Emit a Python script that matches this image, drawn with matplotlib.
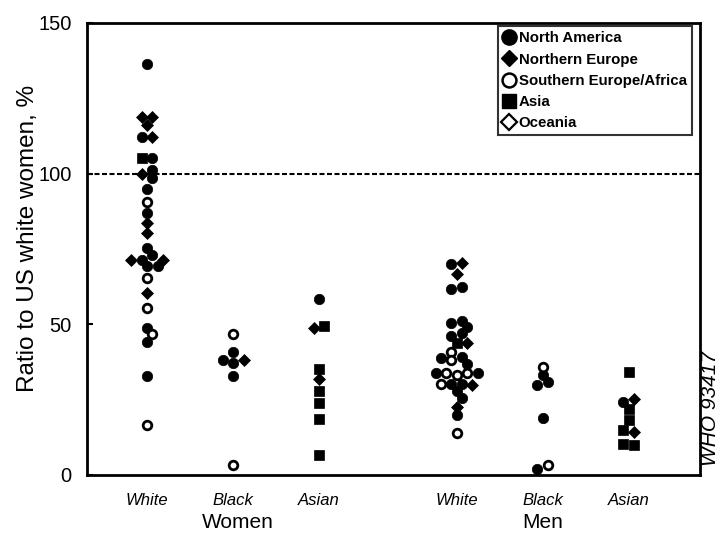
import matplotlib
matplotlib.use("Agg")
import matplotlib.pyplot as plt
from matplotlib.lines import Line2D

plt.rcParams['font.family'] = ['Liberation Sans', 'DejaVu Sans']

# ---------------- data ----------------
categories = ["White", "Black", "Asian", "White", "Black", "Asian"]
groups = ["Women", "Men"]

# region codes: NA North America, NE Northern Europe, SE Southern Europe/Africa, AS Asia, OC Oceania
women_white_vals = [136.3, 118.7, 118.7, 116.0, 112.3, 112.3, 105.3, 105.3, 100.0, 101.3,
                    98.7, 95.0, 90.7, 87.0, 83.7, 80.3, 75.3, 71.3, 71.3, 73.0, 71.3,
                    69.3, 69.3, 65.3, 60.3, 55.3, 48.7, 46.7, 44.0, 32.7, 16.7]
women_white_reg = ["NA", "NE", "NE", "NE", "NA", "NE", "AS", "NA", "NE", "NA",
                   "NA", "NA", "SE", "NA", "NE", "NE", "NA", "NE", "NA", "NA", "NE",
                   "NA", "NA", "SE", "NE", "SE", "NA", "SE", "NA", "NA", "SE"]

women_black_vals = [46.7, 40.7, 38.3, 37.0, 38.3, 33.0, 3.3]
women_black_reg = ["SE", "NA", "NA", "NA", "NE", "NA", "SE"]

women_asian_vals = [58.3, 48.7, 49.3, 35.3, 31.7, 28.0, 24.0, 18.7, 6.7]
women_asian_reg = ["NA", "NE", "AS", "AS", "NE", "AS", "AS", "AS", "AS"]

men_white_vals = [70.0, 70.3, 66.7, 61.7, 62.3, 50.3, 51.0, 49.0, 46.0, 47.0,
                  43.7, 43.7, 40.7, 38.7, 38.0, 39.0, 36.7,
                  34.0, 34.0, 33.3, 34.0, 33.7, 30.3, 30.3, 30.3, 30.0,
                  28.0, 25.7, 22.7, 20.0, 14.0]
men_white_reg = ["NA", "NE", "NE", "NA", "NA", "NA", "NA", "NA", "NA", "NA",
                 "AS", "NE", "SE", "NA", "SE", "NA", "NA",
                 "NA", "SE", "SE", "SE", "NA", "SE", "NA", "NA", "NE",
                 "NA", "NA", "NE", "NA", "SE"]

men_black_vals = [35.7, 33.3, 30.0, 30.7, 19.0, 2.0, 3.3]
men_black_reg = ["SE", "NA", "NA", "NA", "NA", "NA", "SE"]

men_asian_vals = [34.3, 24.3, 25.3, 22.0, 18.3, 15.0, 14.3, 10.3, 10.0]
men_asian_reg = ["AS", "NA", "NE", "AS", "AS", "AS", "NE", "AS", "AS"]

legend_labels = {"NA": "North America", "NE": "Northern Europe",
                 "SE": "Southern Europe/Africa", "AS": "Asia", "OC": "Oceania"}

series = [(women_white_vals, women_white_reg), (women_black_vals, women_black_reg),
          (women_asian_vals, women_asian_reg), (men_white_vals, men_white_reg),
          (men_black_vals, men_black_reg), (men_asian_vals, men_asian_reg)]

# ---------------- layout ----------------
positions = [0, 1, 2, 3.6, 4.6, 5.6]
XPX = 86.0     # pixels per x unit (approx.)
YPX = 3.013    # pixels per y unit (approx.)


def swarm_offsets(vals, tol=1.9, step=0.122, dmin=7.0):
    """Group near-equal values into symmetric rows, then shift rows sideways
    so that no marker overlaps one already placed too much."""
    order = sorted(range(len(vals)), key=lambda i: -vals[i])
    rows = []
    for i in order:
        if rows and vals[rows[-1][0]] - vals[i] < tol:
            rows[-1].append(i)
        else:
            rows.append([i])
    off = [0.0] * len(vals)
    placed = []
    h = step / 2
    shifts = [0.0]
    for k in range(1, 12):
        shifts += [k * h, -k * h]
    for r in rows:
        r = sorted(r)
        n = len(r)
        base = [(k - (n - 1) / 2) * step for k in range(n)]
        for s in shifts:
            ok = True
            for b, i in zip(base, r):
                for (px, py) in placed:
                    dx = (b + s - px) * XPX
                    dy = (vals[i] - py) * YPX
                    if dx * dx + dy * dy < dmin * dmin:
                        ok = False
                        break
                if not ok:
                    break
            if ok:
                break
        for b, i in zip(base, r):
            off[i] = b + s
            placed.append((b + s, vals[i]))
    return off


styles = {
    "NA": dict(marker="o", ms=7.5, mfc="black", mec="black", mew=0.5),
    "NE": dict(marker="D", ms=6.3, mfc="black", mec="black", mew=0.5),
    "SE": dict(marker="o", ms=6.2, mfc="white", mec="black", mew=2.0),
    "AS": dict(marker="s", ms=6.8, mfc="black", mec="black", mew=0.5),
    "OC": dict(marker="D", ms=6.0, mfc="white", mec="black", mew=1.6),
}
leg_styles = {
    "NA": dict(marker="o", ms=11, mfc="black", mec="black"),
    "NE": dict(marker="D", ms=8.5, mfc="black", mec="black"),
    "SE": dict(marker="o", ms=10, mfc="white", mec="black", mew=1.8),
    "AS": dict(marker="s", ms=9.5, mfc="black", mec="black"),
    "OC": dict(marker="D", ms=8, mfc="white", mec="black", mew=1.6),
}

fig = plt.figure(figsize=(7.21, 5.37), dpi=100)
ax = fig.add_axes([0.1207, 0.1155, 0.8502, 0.8417])

for pos, (vals, regs) in zip(positions, series):
    offs = swarm_offsets(vals)
    for code in styles:
        xs = [pos + o for o, r in zip(offs, regs) if r == code]
        ys = [v for v, r in zip(vals, regs) if r == code]
        if xs:
            ax.plot(xs, ys, linestyle="none", clip_on=False, zorder=3, **styles[code])

ax.axhline(100, color="black", lw=1.5, ls=(0, (2.4, 1.2)), zorder=1)

ax.set_xlim(-0.698, 6.43)
ax.set_ylim(0, 150)
ax.set_yticks([0, 50, 100, 150])
ax.set_yticklabels(["0", "50", "100", "150"], fontsize=14.5)
ax.tick_params(axis="y", direction="in", length=4, width=1.5, pad=11)
ax.set_xticks(positions)
ax.set_xticklabels(categories, fontsize=12, style="italic")
ax.tick_params(axis="x", length=0, pad=13)
for s in ax.spines.values():
    s.set_linewidth(2)

ax.set_ylabel("Ratio to US white women, %", fontsize=17.5)
ax.yaxis.set_label_coords(-0.078, 0.524)

trans = ax.get_xaxis_transform()
ax.text((positions[0] + positions[2]) / 2 + 0.05, -0.105, groups[0], transform=trans,
        ha="center", va="center", fontsize=15)
ax.text(positions[4], -0.105, groups[1], transform=trans,
        ha="center", va="center", fontsize=15)

fig.text(0.985, 0.24, "WHO 93417", rotation=90, ha="center", va="center",
         fontsize=15, style="italic")

handles = [Line2D([], [], linestyle="none", **leg_styles[c]) for c in legend_labels]
leg = ax.legend(handles, list(legend_labels.values()), loc="upper right",
                bbox_to_anchor=(0.987, 0.993), frameon=True,
                prop=dict(size=10.8, weight="bold"),
                fancybox=False, edgecolor="black", borderpad=0.35,
                labelspacing=0.48, handlelength=0.8, handletextpad=0.25,
                borderaxespad=0.0)
leg.get_frame().set_linewidth(1.5)

fig.savefig("out.png", dpi=100)
